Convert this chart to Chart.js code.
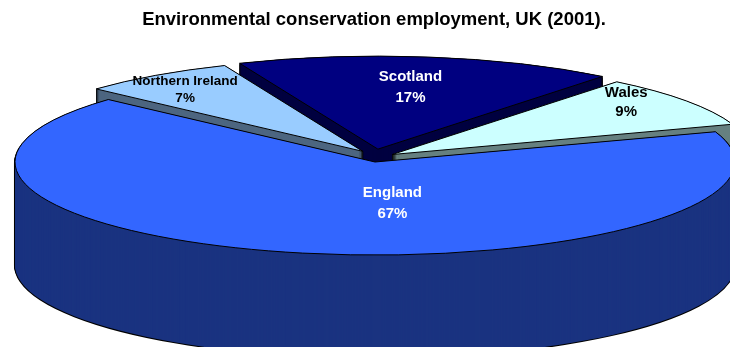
<!DOCTYPE html>
<html>
<head>
<meta charset="utf-8">
<title>Environmental conservation employment, UK (2001)</title>
<script src="https://cdn.jsdelivr.net/npm/chart.js@4.4.1/dist/chart.umd.min.js"></script>
<style>
  html, body { margin: 0; padding: 0; background: #fff; }
  #wrap { position: relative; width: 730px; height: 347px; }
</style>
</head>
<body>
<div id="wrap"><canvas id="pieChart"></canvas></div>
<script>
/* ========== UK conservation employment — 3D pie ========== */

/* Share of employment by nation (%) */
const nations = ['England', 'Northern Ireland', 'Scotland', 'Wales'];
const shares = [67, 7, 17, 9];

/* Top faces, darker side walls, label ink */
const topColours = ['#3366FF', '#99CCFF', '#000080', '#CCFFFF'];
const sideColours = ['#1A3380', '#4D6680', '#000040', '#668080'];
const labelColours = ['#FFFFFF', '#000000', '#FFFFFF', '#000000'];

const FONT = '"Liberation Sans", Arial, Helvetica, sans-serif';

/* Squash the pie into an ellipse and stack copies of each slice into a wall */
const pie3d = {
  id: 'pie3d',
  beforeDatasetsDraw(chart, args, opts) {
    const ctx = chart.ctx;
    const arcs = chart.getDatasetMeta(0).data;
    if (!arcs.length) return false;
    const r = arcs[0].outerRadius;
    const sx = opts.rx / r, sy = opts.ry / r;
    const base = ctx.getTransform();
    const nativeStroke = ctx.stroke;

    // borders stay 1px thick in both directions after the squash
    ctx.stroke = function () {
      this.save();
      this.setTransform(base);
      nativeStroke.call(this);
      this.restore();
    };

    const midOf = arc => (arc.startAngle + arc.endAngle) / 2;

    const drawSlice = (i, dy, over) => {
      const arc = arcs[i];
      const mid = midOf(arc);
      const k = opts.explode[i];
      const piece = Object.create(arc);
      piece.options = Object.assign({}, arc.options, { offset: 0, spacing: 0 }, over);
      ctx.save();
      ctx.translate(opts.cx + Math.cos(mid) * opts.ex * k,
                    opts.cy + Math.sin(mid) * opts.ey * k + dy);
      ctx.scale(sx, sy);
      ctx.translate(-arc.x, -arc.y);
      piece.draw(ctx);
      ctx.restore();
    };

    // walls: black silhouette first, then fill, so only the outline is left
    opts.wallOrder.forEach(i => {
      for (let d = opts.depth; d >= 1; d--) {
        drawSlice(i, d, { backgroundColor: '#000', borderColor: '#000', borderWidth: 2 });
      }
      for (let d = opts.depth; d >= 1; d--) {
        drawSlice(i, d, { backgroundColor: sideColours[i], borderWidth: 0 });
      }
    });

    // top faces
    arcs.forEach((arc, i) => drawSlice(i, 0, {}));

    delete ctx.stroke;

    // labels: name + percentage
    const total = shares.reduce((s, v) => s + v, 0);
    ctx.save();
    ctx.textAlign = 'center';
    ctx.textBaseline = 'middle';
    arcs.forEach((arc, i) => {
      const mid = midOf(arc);
      const k = opts.explode[i];
      const lr = opts.labelRadius[i];
      const nudge = opts.labelNudge[i];
      const x = opts.cx + Math.cos(mid) * (opts.ex * k + lr * opts.rx) + nudge[0];
      const y = opts.cy + Math.sin(mid) * (opts.ey * k + lr * opts.ry) + nudge[1];
      const gap = opts.lineGap[i];
      ctx.font = `bold ${opts.labelSize[i]}px ${FONT}`;
      ctx.fillStyle = labelColours[i];
      ctx.fillText(nations[i], x, y - gap / 2);
      ctx.fillText(Math.round(shares[i] / total * 100) + '%', x, y + gap / 2);
    });
    ctx.restore();

    return false;
  }
};

new Chart(document.getElementById('pieChart'), {
  type: 'pie',
  data: {
    labels: nations,
    datasets: [{
      data: shares,
      backgroundColor: topColours,
      borderColor: '#000',
      borderWidth: 1,
      hoverOffset: 0
    }]
  },
  options: {
    responsive: true,
    maintainAspectRatio: false,
    animation: false,
    events: [],
    rotation: 71,
    layout: { padding: { left: 18 } },
    plugins: {
      legend: { display: false },
      tooltip: { enabled: false },
      title: {
        display: true,
        text: 'Environmental conservation employment, UK (2001).',
        color: '#000',
        font: { family: FONT, size: 18.5, weight: 'bold' },
        padding: { top: 9, bottom: 6 }
      },
      pie3d: {
        cx: 375, cy: 162, rx: 360, ry: 93,
        depth: 103,
        ex: 21, ey: 13,
        explode: [0, 1, 1, 1],
        wallOrder: [2, 1, 3, 0],
        labelRadius: [0.45, 0.9, 0.65, 0.85],
        labelNudge: [[50, 0], [9, 7], [0, -2], [-16, -7]],
        labelSize: [15, 13.5, 15, 15],
        lineGap: [21, 17, 21, 19]
      }
    }
  },
  plugins: [pie3d]
});
</script>
</body>
</html>
